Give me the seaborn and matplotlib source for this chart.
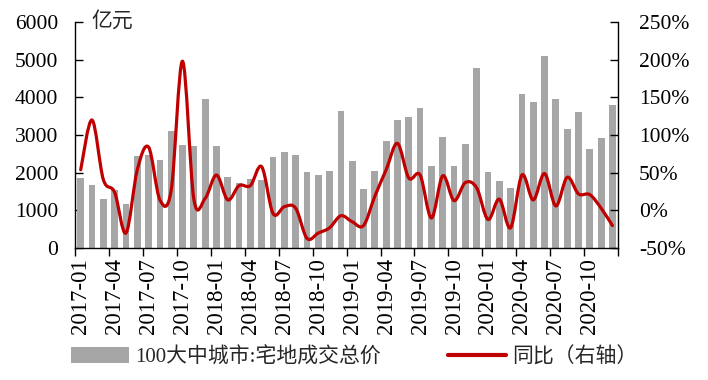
import numpy as np
import pandas as pd
import matplotlib
matplotlib.use("Agg")
import matplotlib.pyplot as plt
import seaborn as sns
from matplotlib.path import Path
from matplotlib.patches import PathPatch
from matplotlib.lines import Line2D
from matplotlib.patches import Patch

months = [f"{y}-{m:02d}" for y in range(2017, 2021) for m in range(1, 13)]

total_price = [1860, 1680, 1300, 1550, 1170, 2450, 2460, 2350, 3110, 2740, 2700, 3950,
               2720, 1900, 1740, 1840, 1820, 2430, 2560, 2460, 2030, 1950, 2060, 3650,
               2300, 1570, 2060, 2830, 3410, 3470, 3730, 2190, 2960, 2190, 2770, 4770,
               2020, 1790, 1600, 4100, 3890, 5110, 3970, 3150, 3600, 2620, 2910, 3790]

yoy = [54, 120, 41, 24, -30, 54, 84, 14, 27, 198, 15, 16,
       47, 14, 33, 33, 58, -4, 5, 3, -37, -30, -23, -7,
       -15, -20, 19, 54, 89, 43, 47, -10, 46, 13, 37, 30,
       -12, 15, -23, 47, 14, 49, 6, 44, 22, 21, 3, -20]

bar_label = "100大中城市:宅地成交总价"
line_label = "同比（右轴）"
unit_label = "亿元"

df = pd.DataFrame({"month": months, "total": total_price, "yoy": np.array(yoy) / 100.0})

sns.set_theme(style="white")
plt.rcParams["font.family"] = ["Liberation Serif", "Noto Sans CJK SC", "DejaVu Sans"]

fig = plt.figure(figsize=(7.08, 3.8), dpi=100)
ax = fig.add_axes([0.106, 0.347, 0.767, 0.595])

sns.barplot(data=df, x="month", y="total", color="#A6A6A6", saturation=1,
            width=0.6, linewidth=0, ax=ax)
ax.set_xlim(-0.5, len(months) - 0.5)
ax.set_ylim(0, 6000)
ax.set_yticks(range(0, 6001, 1000))
ax.set_xlabel("")
ax.set_ylabel("")

ax2 = ax.twinx()
ax2.set_ylim(-0.5, 2.5)
ax2.set_yticks(np.arange(-0.5, 2.51, 0.5))
ax2.set_yticklabels([f"{int(round(v*100))}%" for v in np.arange(-0.5, 2.51, 0.5)])

# smooth (Catmull-Rom style) rendering of the yoy series
xs = np.arange(len(months), dtype=float)
ys = df["yoy"].to_numpy()
verts = [(xs[0], ys[0])]
codes = [Path.MOVETO]
t = 1.0 / 6.0
for i in range(len(xs) - 1):
    p0 = (xs[max(i - 1, 0)], ys[max(i - 1, 0)])
    p1 = (xs[i], ys[i])
    p2 = (xs[i + 1], ys[i + 1])
    p3 = (xs[min(i + 2, len(xs) - 1)], ys[min(i + 2, len(xs) - 1)])
    c1 = (p1[0] + (p2[0] - p0[0]) * t, p1[1] + (p2[1] - p0[1]) * t)
    c2 = (p2[0] - (p3[0] - p1[0]) * t, p2[1] - (p3[1] - p1[1]) * t)
    verts += [c1, c2, p2]
    codes += [Path.CURVE4] * 3
ax2.add_patch(PathPatch(Path(verts, codes), facecolor="none", edgecolor="#C00000",
                        lw=2.3, capstyle="round", joinstyle="round", zorder=5))

# ticks and spines
tick_font = 15.5
for a in (ax, ax2):
    a.spines["top"].set_visible(False)
    for s in ("left", "right", "bottom"):
        a.spines[s].set_color("black")
        a.spines[s].set_linewidth(1.0)
ax.spines["right"].set_visible(False)
ax2.spines["left"].set_visible(False)
ax2.spines["bottom"].set_visible(False)

ax.tick_params(axis="y", direction="in", length=6, width=1, colors="black",
               labelsize=tick_font, left=True, pad=12)
ax2.tick_params(axis="y", direction="in", length=6, width=1, colors="black",
                labelsize=tick_font, right=True, pad=15)

ax.set_xticks([i + 0.5 for i in range(-1, len(months), 3)], minor=False)
ax.set_xticklabels([])
ax.set_xticks(range(0, len(months), 3), minor=True)
ax.set_xticklabels([months[i] for i in range(0, len(months), 3)], minor=True,
                   rotation=90)
ax.tick_params(axis="x", which="major", direction="out", length=6, width=1,
               colors="black", bottom=True)
ax.tick_params(axis="x", which="minor", length=0, labelsize=16.5, pad=7,
               colors="black")

ax.text(0.03, 1.0, unit_label, transform=ax.transAxes, ha="left", va="center",
        fontsize=15)

handles = [Patch(facecolor="#A6A6A6", edgecolor="none"),
           Line2D([0], [0], color="#C00000", lw=3)]
fig.legend(handles, [bar_label, line_label], loc="center", ncol=2,
           bbox_to_anchor=(0.5, 0.06), frameon=False, fontsize=15,
           handlelength=2.8, handleheight=0.8, columnspacing=3.2,
           handletextpad=0.3)

fig.savefig("out.png", dpi=100)
